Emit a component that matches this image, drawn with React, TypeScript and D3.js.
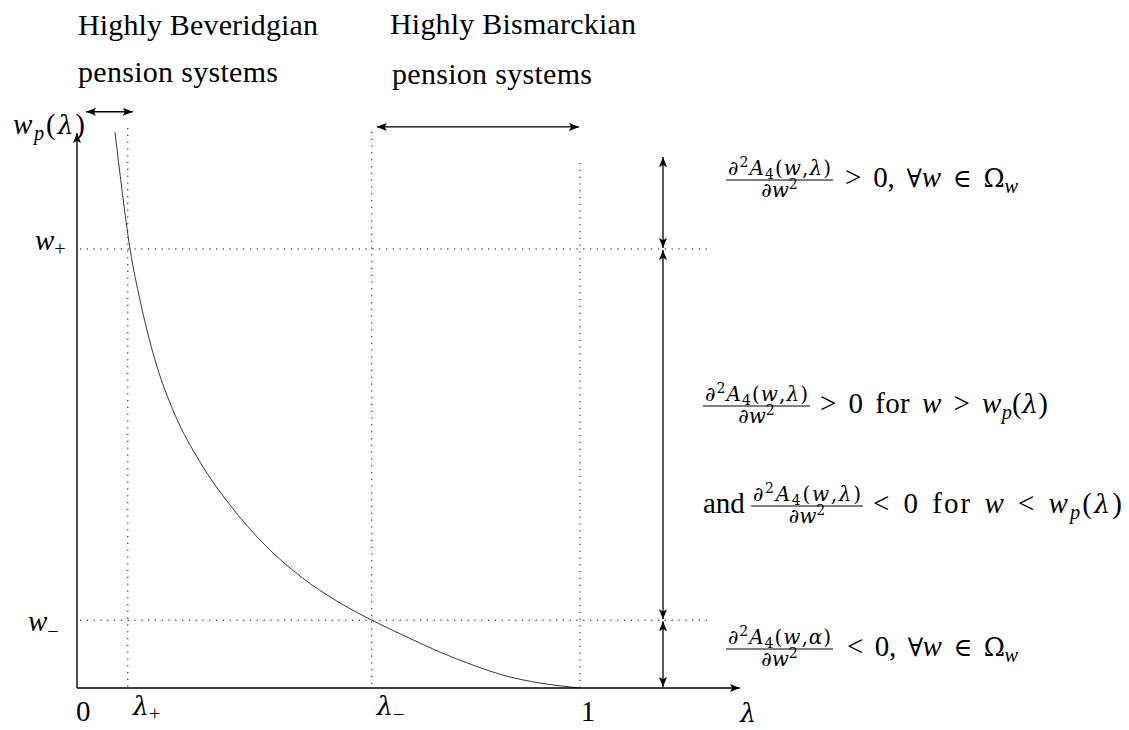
import React from "react";
import * as d3 from "d3";

// ---------- data ----------
const curveLambda = [0.0755, 0.0895, 0.1054, 0.1252, 0.155, 0.195, 0.2445, 0.304, 0.374, 0.4433, 0.5229, 0.5865, 0.656, 0.722, 0.787, 0.855, 0.92, 1.0];
const curveW = [0.993, 0.889, 0.784, 0.693, 0.586, 0.4875, 0.4036, 0.327, 0.255, 0.2, 0.1518, 0.121, 0.091, 0.064, 0.041, 0.021, 0.009, 0];

const lambdaGuides = [0.101, 0.586, 1.0]; // λ+, λ−, 1
const lambdaGuideTops = [1.0, 0.993, 0.9375];
const wGuides = [0.784, 0.121]; // w+, w−
const wGuideEnds = [1.254, 1.262];

const xTickValues = [0, 0.101, 0.586, 1.0];
const xTickMain = ["0", "λ", "λ", "1"];
const xTickSub = ["", "+", "−", ""];
const yTickValues = [0.784, 0.121];
const yTickSub = ["+", "−"];

const axisLambdaMax = 1.318;
const axisWMax = 0.991;
const regionLambda = 1.165;
const regionTopW = 0.948;

const beveridgeRange = [0.018, 0.111];
const beveridgeW = 1.029;
const bismarckRange = [0.596, 0.998];
const bismarckW = 1.002;

type Seg = { t: string; it?: boolean; pos?: "sub" | "sup"; scale?: number; sym?: boolean; dx?: number };

const G = 12; // math spacing around relations / words

const NUM_LAMBDA: Seg[] = [{ t: "∂", it: true }, { t: "2", pos: "sup" }, { t: "A", it: true }, { t: "4", pos: "sub" }, { t: "(" }, { t: "w", it: true }, { t: "," }, { t: "λ", it: true }, { t: ")" }];
const NUM_ALPHA: Seg[] = [{ t: "∂", it: true }, { t: "2", pos: "sup" }, { t: "A", it: true }, { t: "4", pos: "sub" }, { t: "(" }, { t: "w", it: true }, { t: "," }, { t: "α", it: true }, { t: ")" }];
const DEN: Seg[] = [{ t: "∂", it: true }, { t: "w", it: true }, { t: "2", pos: "sup" }];

const REST_1: Seg[] = [{ t: ">" }, { t: "0,", dx: G }, { t: "∀", sym: true, dx: G }, { t: "w", it: true }, { t: "∈", sym: true, dx: G }, { t: "Ω", sym: true, dx: G }, { t: "w", it: true, pos: "sub" }];
const REST_2: Seg[] = [{ t: ">" }, { t: "0", dx: G }, { t: "for", dx: G }, { t: "w", it: true, dx: G }, { t: ">", dx: G }, { t: "w", it: true, dx: G }, { t: "p", it: true, pos: "sub" }, { t: "(" }, { t: "λ", it: true, sym: true }, { t: ")" }];
const REST_3: Seg[] = [{ t: "<" }, { t: "0", dx: G }, { t: "for", dx: G }, { t: "w", it: true, dx: G }, { t: "<", dx: G }, { t: "w", it: true, dx: G }, { t: "p", it: true, pos: "sub" }, { t: "(" }, { t: "λ", it: true, sym: true }, { t: ")" }];
const REST_4: Seg[] = [{ t: "<" }, { t: "0,", dx: G }, { t: "∀", sym: true, dx: G }, { t: "w", it: true }, { t: "∈", sym: true, dx: G }, { t: "Ω", sym: true, dx: G }, { t: "w", it: true, pos: "sub" }];
const WP_LABEL: Seg[] = [{ t: "w", it: true }, { t: "p", it: true, pos: "sub" }, { t: "(" }, { t: "λ", it: true, sym: true }, { t: ")" }];

const FONT = "'Liberation Serif', 'DejaVu Serif', serif";
const SYM_FONT = "'DejaVu Serif', serif";
const BASE = 29;

function Rich({ x, y, fs, anchor = "start", segs, len, family }: { x: number; y: number; fs: number; anchor?: string; segs: Seg[]; len?: number; family?: string }) {
  let shift = 0;
  const spans = segs.map((s, i) => {
    const target = s.pos === "sub" ? fs * 0.22 : s.pos === "sup" ? -fs * 0.4 : 0;
    const dy = target - shift;
    shift = target;
    let size = s.pos ? fs * (s.scale ?? 0.7) : fs * (s.scale ?? 1);
    if (s.sym && !family) size *= 0.88;
    return (
      <tspan
        key={i}
        dx={s.dx}
        dy={dy !== 0 ? dy : undefined}
        fontSize={size}
        fontFamily={family ?? (s.sym ? SYM_FONT : FONT)}
        fontStyle={s.it ? "italic" : "normal"}
      >
        {s.t}
      </tspan>
    );
  });
  return (
    <text
      x={x}
      y={y}
      fontSize={fs}
      textAnchor={anchor}
      fontFamily={family ?? FONT}
      fill="#000"
      textLength={len}
      lengthAdjust={len ? "spacing" : undefined}
    >
      {spans}
    </text>
  );
}

function Fraction({ left, bar, width, num }: { left: number; bar: number; width: number; num: Seg[] }) {
  const cx = left + width / 2;
  return (
    <g>
      <Rich x={cx} y={bar - 5} fs={20} anchor="middle" segs={num} len={width - 4} family={SYM_FONT} />
      <line x1={left} x2={left + width} y1={bar} y2={bar} stroke="#000" strokeWidth={1} />
      <Rich x={cx} y={bar + 17} fs={20} anchor="middle" segs={DEN} family={SYM_FONT} />
    </g>
  );
}

function Header({ x, y, text, len }: { x: number; y: number; text: string; len: number }) {
  return (
    <text x={x} y={y} fontSize={30} fontFamily={FONT} textLength={len} lengthAdjust="spacing">
      {text}
    </text>
  );
}

export default function App() {
  const x = d3.scaleLinear().domain([0, 1]).range([77, 580]);
  const y = d3.scaleLinear().domain([0, 1]).range([688, 128]);

  const pts = curveLambda.map((l, i) => [l, curveW[i]] as [number, number]);
  const line = d3
    .line<[number, number]>()
    .x((d) => x(d[0]))
    .y((d) => y(d[1]))
    .curve(d3.curveMonotoneX);

  const dots = "1.2 5.6";
  const rx = x(regionLambda);

  return (
    <svg width={1129} height={730} style={{ position: "absolute", left: 0, top: 0, background: "#fff" }}>
      <defs>
        <marker id="ah" viewBox="0 0 10 8" refX="10" refY="4" markerWidth="10" markerHeight="8" markerUnits="userSpaceOnUse" orient="auto-start-reverse">
          <path d="M0,0 L10,4 L0,8 L2.2,4 Z" fill="#000" />
        </marker>
      </defs>

      {/* header texts */}
      <Header x={78} y={35} text="Highly Beveridgian" len={240} />
      <Header x={78} y={82} text="pension systems" len={200} />
      <Header x={390} y={34} text="Highly Bismarckian" len={246} />
      <Header x={392} y={84} text="pension systems" len={200} />

      {/* top range arrows */}
      <line x1={x(beveridgeRange[0])} x2={x(beveridgeRange[1])} y1={y(beveridgeW)} y2={y(beveridgeW)} stroke="#000" strokeWidth={1.3} markerStart="url(#ah)" markerEnd="url(#ah)" />
      <line x1={x(bismarckRange[0])} x2={x(bismarckRange[1])} y1={y(bismarckW)} y2={y(bismarckW)} stroke="#000" strokeWidth={1.3} markerStart="url(#ah)" markerEnd="url(#ah)" />

      {/* dotted guides */}
      {lambdaGuides.map((l, i) => (
        <line key={"vl" + i} x1={x(l)} x2={x(l)} y1={y(lambdaGuideTops[i])} y2={y(0)} stroke="#000" strokeWidth={1} strokeDasharray={dots} />
      ))}
      {wGuides.map((w, i) => (
        <line key={"hl" + i} x1={x(0) + 3} x2={x(wGuideEnds[i])} y1={y(w)} y2={y(w)} stroke="#000" strokeWidth={1} strokeDasharray={dots} />
      ))}

      {/* curve */}
      <path d={line(pts) ?? ""} fill="none" stroke="#222" strokeWidth={0.9} />

      {/* axes */}
      <line x1={x(0)} x2={x(0)} y1={y(0)} y2={y(axisWMax)} stroke="#000" strokeWidth={1.4} markerEnd="url(#ah)" />
      <line x1={x(0)} x2={x(axisLambdaMax)} y1={y(0)} y2={y(0)} stroke="#000" strokeWidth={1.4} markerEnd="url(#ah)" />

      {/* region arrows */}
      <line x1={rx} x2={rx} y1={y(regionTopW)} y2={y(wGuides[0]) - 1} stroke="#000" strokeWidth={1.3} markerStart="url(#ah)" markerEnd="url(#ah)" />
      <line x1={rx} x2={rx} y1={y(wGuides[0]) + 1} y2={y(wGuides[1]) - 1} stroke="#000" strokeWidth={1.3} markerStart="url(#ah)" markerEnd="url(#ah)" />
      <line x1={rx} x2={rx} y1={y(wGuides[1]) + 1} y2={y(0) - 1} stroke="#000" strokeWidth={1.3} markerStart="url(#ah)" markerEnd="url(#ah)" />

      {/* axis labels */}
      <Rich x={13} y={134} fs={BASE} segs={WP_LABEL} len={72} />
      {yTickValues.map((w, i) => (
        <Rich key={"yt" + i} x={i === 0 ? 35 : 28} y={i === 0 ? y(w) + 1 : y(w) + 11} fs={BASE} segs={[{ t: "w", it: true }, { t: yTickSub[i], pos: "sub" }]} />
      ))}
      {xTickValues.map((l, i) => (
        <Rich
          key={"xt" + i}
          x={x(l) + (i === 0 ? -1 : i === 3 ? 8 : 5)}
          y={i === 0 || i === 3 ? 721 : 715}
          fs={BASE}
          anchor={i === 3 ? "middle" : "start"}
          segs={xTickSub[i] ? [{ t: xTickMain[i], it: true, sym: true }, { t: xTickSub[i], pos: "sub" }] : [{ t: xTickMain[i] }]}
        />
      ))}
      <Rich x={740} y={722} fs={BASE} segs={[{ t: "λ", it: true, sym: true }]} />

      {/* region formulas */}
      <Fraction left={726} bar={180} width={107} num={NUM_LAMBDA} />
      <Rich x={845} y={187} fs={BASE} segs={REST_1} len={173} />

      <Fraction left={703} bar={406} width={107} num={NUM_LAMBDA} />
      <Rich x={820} y={413} fs={BASE} segs={REST_2} len={228} />

      <Rich x={703} y={513} fs={BASE} segs={[{ t: "and" }]} />
      <Fraction left={751} bar={506} width={112} num={NUM_LAMBDA} />
      <Rich x={873} y={513} fs={BASE} segs={REST_3} len={249} />

      <Fraction left={726} bar={649} width={107} num={NUM_ALPHA} />
      <Rich x={847} y={656} fs={BASE} segs={REST_4} len={171} />
    </svg>
  );
}
